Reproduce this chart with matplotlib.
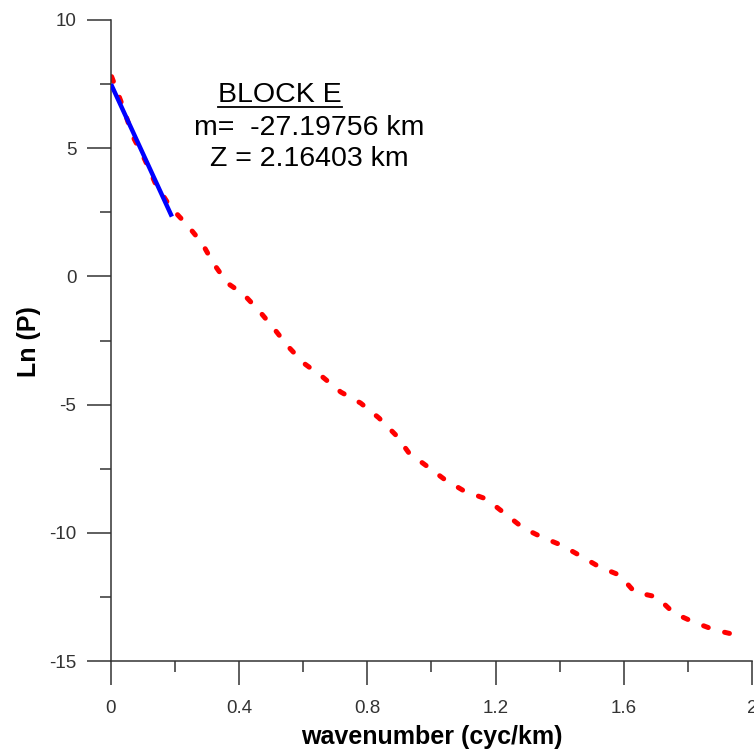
import numpy as np
import matplotlib
matplotlib.use('Agg')
import matplotlib.pyplot as plt
from matplotlib.ticker import MultipleLocator
from matplotlib.lines import Line2D

plt.rcParams['font.family'] = ['Liberation Sans', 'DejaVu Sans']

# radially averaged power spectrum
wavenumber = [0.002, 0.033, 0.069, 0.106, 0.138, 0.185, 0.238, 0.284, 0.319, 0.363,
              0.413, 0.460, 0.507, 0.551, 0.601, 0.660, 0.717, 0.779, 0.836, 0.889,
              0.930, 0.989, 1.039, 1.102, 1.171, 1.227, 1.286, 1.343, 1.405, 1.465,
              1.524, 1.587, 1.634, 1.703, 1.756, 1.818, 1.884, 1.953]
ln_p = [7.79, 6.76, 5.44, 4.54, 3.64, 2.71, 2.00, 1.30, 0.52, -0.26,
        -0.69, -1.31, -2.01, -2.71, -3.38, -3.92, -4.51, -4.94, -5.52, -6.19,
        -6.89, -7.43, -7.90, -8.37, -8.68, -9.23, -9.81, -10.16, -10.48, -10.90,
        -11.33, -11.65, -12.31, -12.50, -13.13, -13.48, -13.79, -13.99]

# linear fit over the first segment
slope = -27.19756
depth = 2.16403
intercept = 7.5
fit_x = np.array([0.0, 0.19])
fit_y = intercept + slope * fit_x

x_ticks = [0, 0.4, 0.8, 1.2, 1.6, 2]
x_labels = ['0', '0.4', '0.8', '1.2', '1.6', '2']
y_ticks = [-15, -10, -5, 0, 5, 10]
y_labels = ['-15', '-10', '-5', '0', '5', '10']

fig = plt.figure(figsize=(7.54, 7.51), dpi=100)
ax = fig.add_axes([0.1472, 0.1198, 0.8501, 0.8536])

ax.plot(wavenumber, ln_p, color='#ff0000', lw=3.6, dashes=(1.0, 3.4),
        dash_capstyle='round', solid_capstyle='round', zorder=2)
ax.plot(fit_x, fit_y, color='#0000ff', lw=3.2, solid_capstyle='butt', zorder=3)

ax.set_xlim(0, 2)
ax.set_ylim(-15, 10)
ax.set_xticks(x_ticks)
ax.set_xticklabels(x_labels)
ax.set_yticks(y_ticks)
ax.set_yticklabels(y_labels)
ax.xaxis.set_minor_locator(MultipleLocator(0.2))
ax.yaxis.set_minor_locator(MultipleLocator(2.5))

for s in ['top', 'right']:
    ax.spines[s].set_visible(False)
for s in ['left', 'bottom']:
    ax.spines[s].set_color('#333333')
    ax.spines[s].set_linewidth(1.1)

ax.tick_params(which='major', direction='out', length=17, width=1.1, color='#333333',
               labelsize=13.5, labelcolor='#333333')
ax.tick_params(axis='x', which='major', pad=11)
ax.tick_params(axis='y', which='major', pad=8)
ax.tick_params(which='minor', direction='out', length=8, width=1.1, color='#333333')

ax.set_xlabel('wavenumber (cyc/km)', fontsize=18, fontweight='bold', va='center')
ax.set_ylabel('Ln (P)', fontsize=18, fontweight='bold', va='center', ha='center')
ax.xaxis.set_label_coords(0.5008, -0.1186)
ax.yaxis.set_label_coords(-0.128, 0.499)

t1 = ax.text(0.264, 0.883, 'BLOCK E', transform=ax.transAxes, fontsize=20.5,
             ha='center', va='center')
ax.text(0.309, 0.831, 'm=  %.5f km' % slope, transform=ax.transAxes, fontsize=20.5,
        ha='center', va='center')
ax.text(0.31, 0.783, 'Z = %.5f km' % depth, transform=ax.transAxes, fontsize=20.5,
        ha='center', va='center')

# underline the block title
fig.canvas.draw()
bb = t1.get_window_extent().transformed(fig.transFigure.inverted())
fig.add_artist(Line2D([bb.x0, bb.x1], [bb.y0 + 0.001, bb.y0 + 0.001],
                      color='black', lw=1.3, transform=fig.transFigure))

plt.savefig('out.png', dpi=100)
